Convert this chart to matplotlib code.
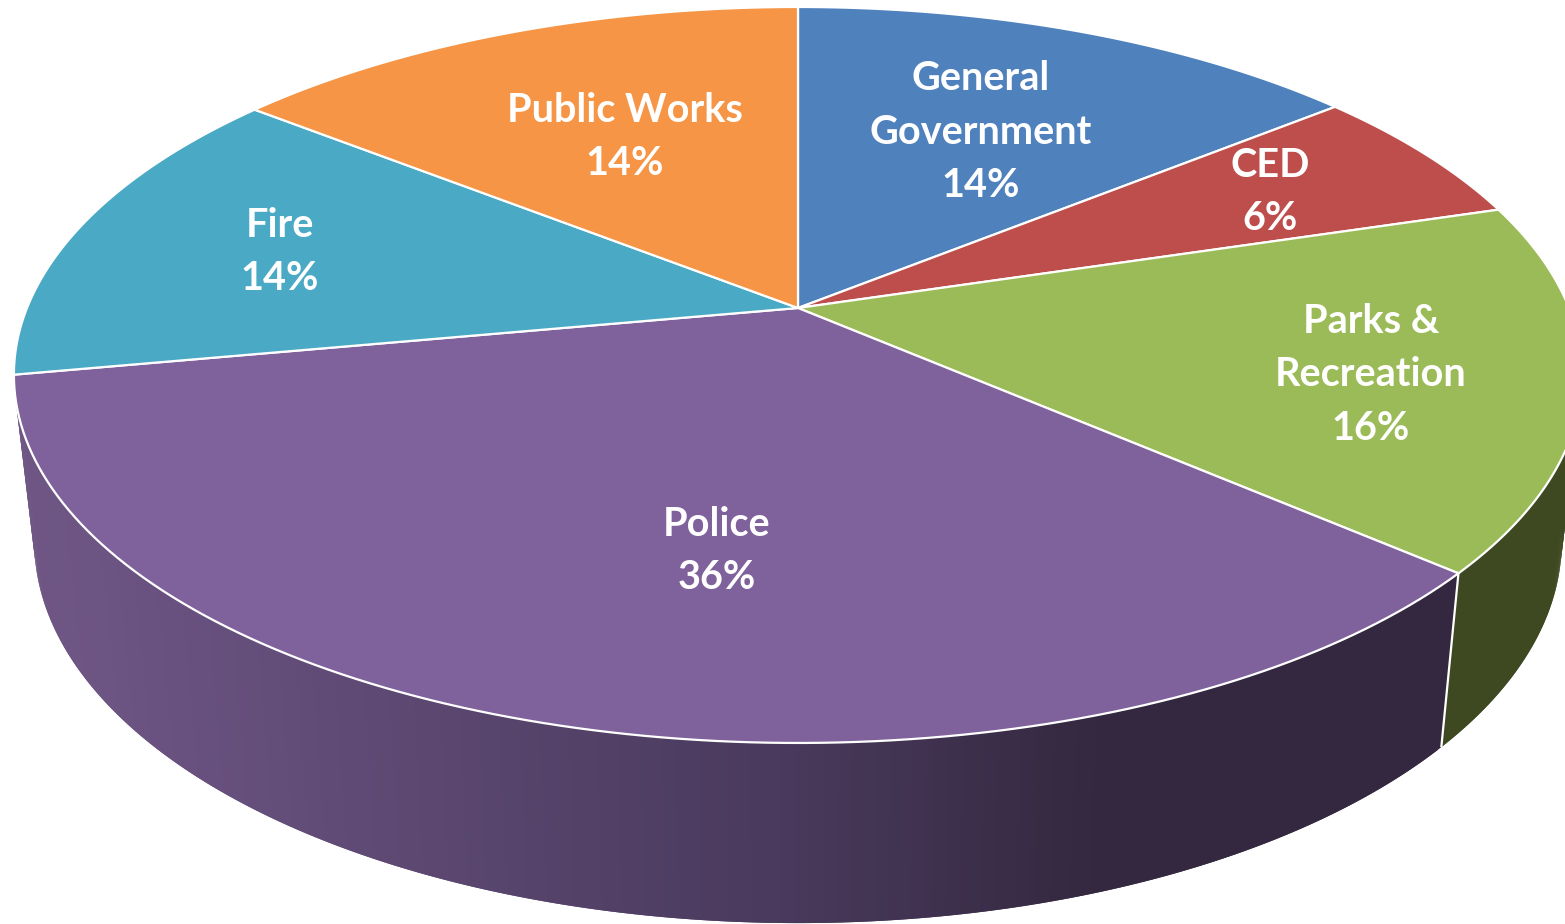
import numpy as np
import matplotlib
matplotlib.use("Agg")
import matplotlib.pyplot as plt
from matplotlib.collections import PolyCollection
from matplotlib.colors import to_rgb

categories = ["General\nGovernment", "CED", "Parks &\nRecreation", "Police", "Fire", "Public Works"]
values = [14.15, 6.15, 16.1, 35.7, 13.55, 14.35]

face_colors = ["#4f81bd", "#bd4e4b", "#9bbb59", "#7f619c", "#4aa9c4", "#f59545"]
label_xy = [(981, 132), (1270, 192), (1371, 375), (717, 551), (280, 252), (625, 137)]

# perspective of the pie's top and bottom discs, in pixels
APEX_X, APEX_Y = 798, 308
TOP = dict(y0=APEX_Y, ax=771.0, by=355.8, k=0.182)
BOT = dict(y0=472.0, ax=751.0, by=369.0, k=0.182)


def project(theta, plane):
    x, y = np.sin(theta), -np.cos(theta)
    d = 1 - plane["k"] * y
    return APEX_X + plane["ax"] * x / d, plane["y0"] + plane["by"] * y / d


def wall_colour(base, x):
    # the wall shading runs left to right
    if base == "#7f619c":
        stops = [0, 100, 790, 1100, 1565]
        cols = np.array([to_rgb(c) for c in ["#6f5685", "#6c5483", "#49395c", "#33283f", "#33283f"]])
        return tuple(np.interp(x, stops, cols[:, i]) for i in range(3))
    return to_rgb("#3f4921")


fig = plt.figure(figsize=(15.65, 9.24), dpi=100, facecolor="white")
ax = fig.add_axes([0, 0, 1, 1])
ax.set_xlim(0, 1565)
ax.set_ylim(924, 0)
ax.set_axis_off()

edges = np.concatenate([[0], np.cumsum(values)]) / np.sum(values) * 2 * np.pi

# side walls: only slices that face the viewer have one
for i, base in enumerate(face_colors):
    if np.cos((edges[i] + edges[i + 1]) / 2) >= 0:
        continue
    n = int(values[i] * 8)
    th = np.linspace(edges[i], edges[i + 1], n + 1)
    tx, ty = project(th, TOP)
    bx, by = project(th, BOT)
    quads, cols = [], []
    for j in range(n):
        # each strip reaches into the next one, so no seams show between them
        e = min(j + 2, n)
        quads.append([(tx[j], ty[j]), (tx[e], ty[e]), (bx[e], by[e]), (bx[j], by[j])])
        cols.append(wall_colour(base, (tx[j] + tx[j + 1] + bx[j] + bx[j + 1]) / 4))
    ax.add_collection(PolyCollection(quads, facecolors=cols, edgecolors="none", zorder=2))

# white seam between the Police and Parks walls
seam = edges[3]
sx0, sy0 = project(seam, TOP)
sx1, sy1 = project(seam, BOT)
ax.plot([sx0, sx1], [sy0, sy1], color="white", lw=1.6, zorder=3, solid_capstyle="butt")

# top of the pie
for i, base in enumerate(face_colors):
    th = np.linspace(edges[i], edges[i + 1], 120)
    x, y = project(th, TOP)
    ax.fill(np.r_[APEX_X, x], np.r_[APEX_Y, y], facecolor=base, edgecolor="white",
            linewidth=1.6, joinstyle="round", zorder=4)

# labels
total = sum(values)
for name, val, (lx, ly) in zip(categories, values, label_xy):
    ax.text(lx, ly, f"{name}\n{round(val / total * 100):d}%", color="white", ha="center", va="center",
            family=["Lato", "DejaVu Sans"], fontweight="bold", fontsize=28.5, linespacing=1.55, zorder=5)

fig.savefig("out.png", dpi=100)
